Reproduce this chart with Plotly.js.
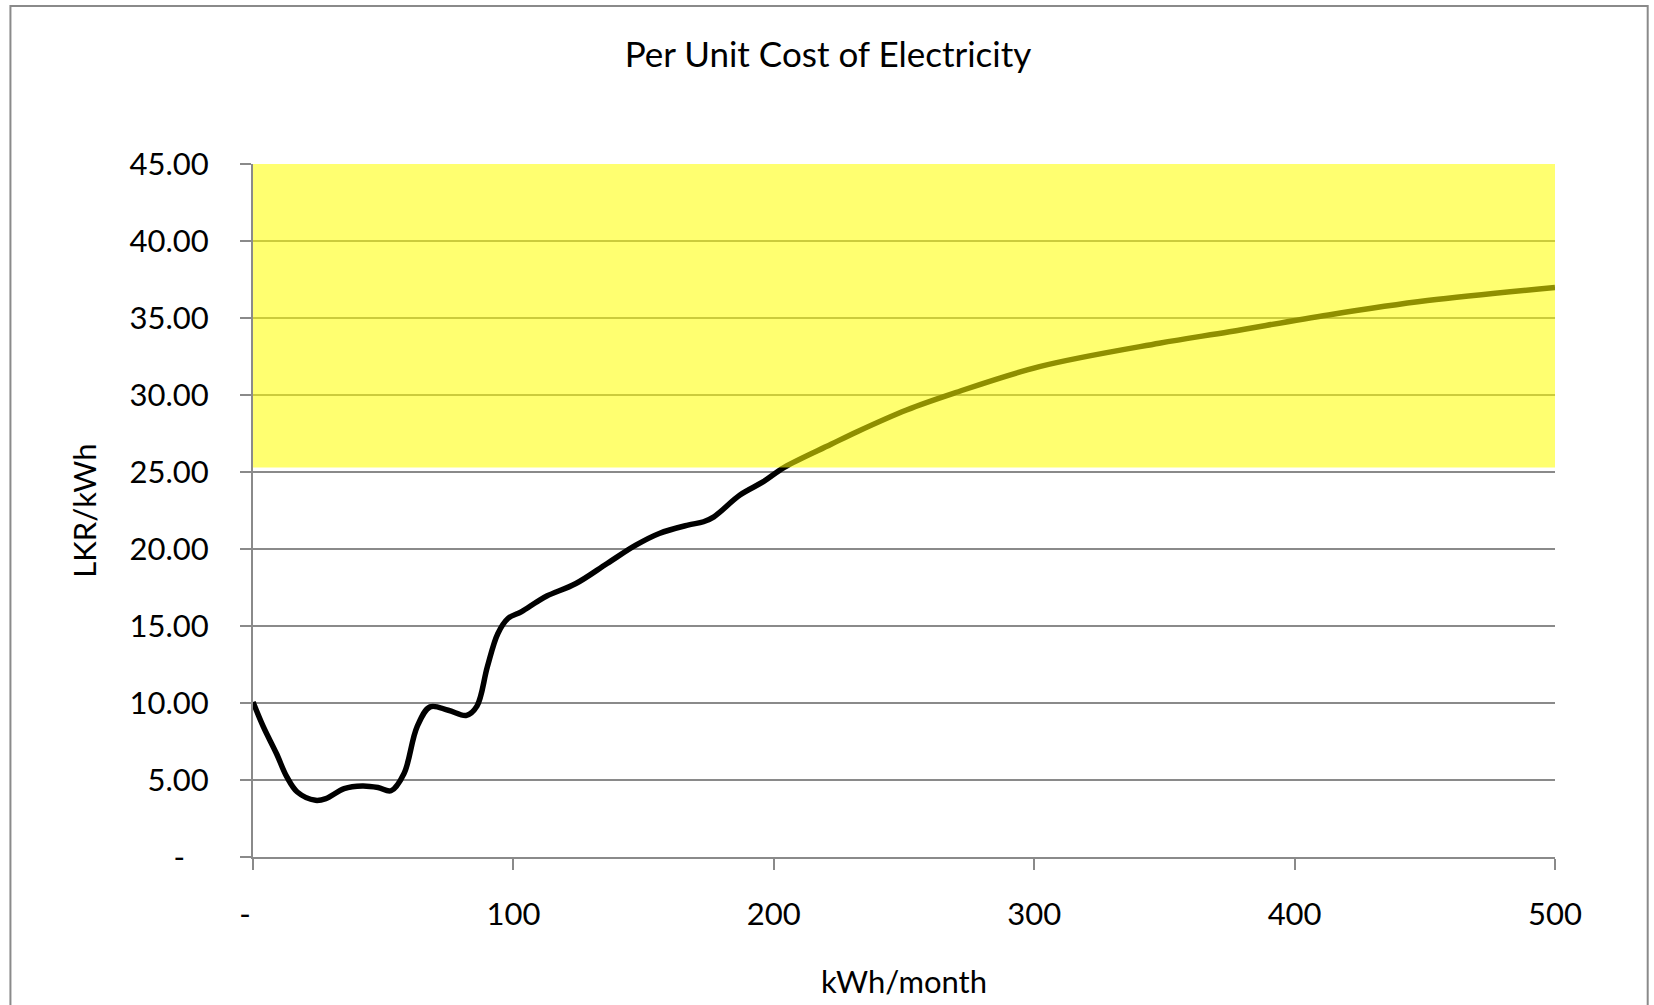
<!DOCTYPE html>
<html>
<head>
<meta charset="utf-8">
<script src="https://cdn.plot.ly/plotly-3.0.1.min.js"></script>
<style>
  html, body { margin: 0; padding: 0; background: #ffffff; }
  #chart { width: 1654px; height: 1005px; }
</style>
</head>
<body>
<div id="chart"></div>
<script>
// Consumption (kWh/month) and per-unit cost (LKR/kWh)
const kwhPerMonth = [0, 4, 9, 13, 17, 24, 28, 35, 42, 48, 53, 58, 63, 68, 75, 82, 86, 90, 94, 98, 103, 109, 113, 124, 136, 147, 156, 167, 173, 177, 187, 196, 204, 222, 232, 251, 269, 302, 348, 375, 413, 451, 500];
const costPerUnit = [10.07, 8.45, 6.72, 5.2, 4.22, 3.68, 3.79, 4.44, 4.61, 4.51, 4.30, 5.42, 8.45, 9.75, 9.53, 9.2, 9.8, 12.35, 14.5, 15.5, 15.92, 16.57, 16.96, 17.76, 19.06, 20.25, 21.01, 21.55, 21.77, 22.09, 23.5, 24.37, 25.3, 26.8, 27.62, 29.03, 30.11, 31.84, 33.36, 34.11, 35.2, 36.13, 36.98];

// Axis ticks
const xTickVals = [0, 100, 200, 300, 400, 500];
const xTickText = ["-\u00a0\u00a0", "100", "200", "300", "400", "500"];
const yTickVals = [0, 5, 10, 15, 20, 25, 30, 35, 40, 45];
const yTickText = ["-\u00a0\u00a0\u00a0", "5.00", "10.00", "15.00", "20.00", "25.00", "30.00", "35.00", "40.00", "45.00"];

// Highlighted band (yellow box)
const bandX = [-2.5, 501.5];
const bandY = [25.3, 45];

const FONT = "Lato, 'Open Sans', 'Noto Sans', sans-serif";
const GRID = "#8a8a8a";

const trace = {
  x: kwhPerMonth,
  y: costPerUnit,
  type: "scatter",
  mode: "lines",
  line: { color: "#000000", width: 5.5, shape: "spline", smoothing: 1 },
  hoverinfo: "x+y"
};

const layout = {
  width: 1654,
  height: 1005,
  paper_bgcolor: "#ffffff",
  plot_bgcolor: "#ffffff",
  margin: { l: 253, r: 99, t: 164, b: 148, pad: 0 },
  showlegend: false,
  font: { family: FONT, size: 31, color: "#000000" },
  title: {
    text: "Per Unit Cost of Electricity",
    font: { family: FONT, size: 35, color: "#000000" },
    x: 828 / 1654, xref: "container", xanchor: "center",
    y: 1 - 55 / 1005, yref: "container", yanchor: "middle"
  },
  xaxis: {
    range: [0, 500],
    tickmode: "array",
    tickvals: xTickVals,
    ticktext: xTickText,
    ticks: "outside",
    ticklen: 11,
    tickwidth: 2,
    tickcolor: GRID,
    ticklabelstandoff: 18,
    showline: true,
    linecolor: GRID,
    linewidth: 2,
    showgrid: false,
    zeroline: false,
    tickfont: { family: FONT, size: 31, color: "#000000" },
    title: { text: "kWh/month", font: { family: FONT, size: 31, color: "#000000" }, standoff: 40 }
  },
  yaxis: {
    range: [0, 45],
    tickmode: "array",
    tickvals: yTickVals,
    ticktext: yTickText,
    ticks: "outside",
    ticklen: 11,
    tickwidth: 2,
    tickcolor: GRID,
    ticklabelstandoff: 25,
    showline: true,
    linecolor: GRID,
    linewidth: 2,
    showgrid: true,
    gridcolor: GRID,
    gridwidth: 2,
    zeroline: false,
    tickfont: { family: FONT, size: 31, color: "#000000" },
    title: { text: "LKR/kWh", font: { family: FONT, size: 31, color: "#000000" }, standoff: 24 }
  },
  shapes: [
    {
      type: "rect", layer: "above",
      xref: "x", yref: "y",
      x0: bandX[0], x1: bandX[1], y0: bandY[0], y1: bandY[1],
      fillcolor: "rgba(255,255,0,0.56)",
      line: { width: 0 }
    },
    {
      type: "rect", layer: "below",
      xref: "paper", yref: "paper",
      x0: -0.1863, x1: 1.0712, y0: -0.23, y1: 1.2281,
      fillcolor: "rgba(0,0,0,0)",
      line: { color: "#8a8a8a", width: 2 }
    }
  ]
};

Plotly.newPlot("chart", [trace], layout, { displayModeBar: false, staticPlot: true });
</script>
</body>
</html>
